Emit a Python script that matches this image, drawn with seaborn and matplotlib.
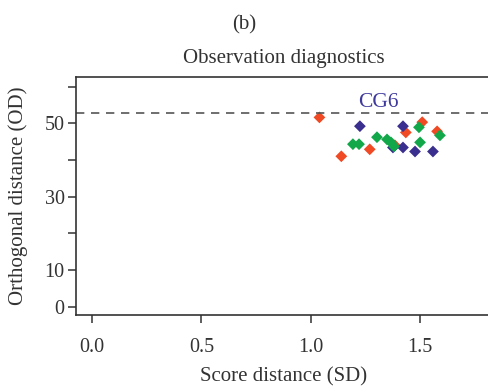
import pandas as pd
import matplotlib
matplotlib.use("Agg")
import matplotlib.pyplot as plt
import seaborn as sns

# Valeurs (SD, OD) par groupe
red_sd = [1.04, 1.14, 1.27, 1.385, 1.435, 1.51, 1.578]
red_od = [51.6, 41.0, 42.9, 44.0, 47.5, 50.3, 47.8]
blue_sd = [1.225, 1.376, 1.422, 1.422, 1.477, 1.559]
blue_od = [49.2, 43.4, 49.2, 43.4, 42.3, 42.3]
green_sd = [1.193, 1.221, 1.303, 1.349, 1.367, 1.381, 1.495, 1.50, 1.591]
green_od = [44.3, 44.3, 46.2, 45.6, 44.8, 43.7, 48.9, 44.8, 46.7]
cutoff_od = 52.7
cutoff_label = "CG6"

x_ticks = [0.0, 0.5, 1.0, 1.5]
y_ticks = [0, 10, 20, 30, 40, 50, 60]
y_tick_labels = ["0", "10", "", "30", "", "50", ""]

df = pd.DataFrame({
    "sd": red_sd + blue_sd + green_sd,
    "od": red_od + blue_od + green_od,
    "group": ["r"] * len(red_sd) + ["b"] * len(blue_sd) + ["g"] * len(green_sd),
})

sns.set_style("white")
plt.rcParams["font.family"] = ["Liberation Serif", "DejaVu Serif"]
text_col = "#333333"

fig = plt.figure(figsize=(4.88, 3.87), dpi=100)
ax = fig.add_axes([75.7 / 488, (387 - 314.7) / 387, (492 - 75.7) / 488, (314.7 - 76.7) / 387])

palette = {"r": "#ef4a24", "b": "#3a2e8e", "g": "#12a84a"}
sns.scatterplot(data=df, x="sd", y="od", hue="group", palette=palette,
                marker="D", s=36, linewidth=0, legend=False, ax=ax)

ax.axhline(cutoff_od, color="#555555", linestyle=(0, (5, 4)), linewidth=1.2)
ax.text(1.31, cutoff_od + 0.4, cutoff_label, color="#3f3a9c", fontsize=15.5,
        ha="center", va="bottom")

ax.set_xlim(-0.0745, 1.829)
ax.set_ylim(-2.2, 62.7)
ax.set_xticks(x_ticks)
ax.set_xticklabels([f"{v:.1f}" for v in x_ticks])
ax.set_yticks(y_ticks)
ax.set_yticklabels(y_tick_labels)

for side in ["top", "left", "bottom", "right"]:
    ax.spines[side].set_color("#333333")
    ax.spines[side].set_linewidth(1.2)
ax.tick_params(axis="both", which="major", direction="out", bottom=True, left=True,
               length=6, width=1.1, color="#333333",
               labelsize=14.5, labelcolor=text_col)
ax.tick_params(axis="x", pad=11)
ax.tick_params(axis="y", pad=2)

ax.set_xlabel("Score distance (SD)", fontsize=15, color=text_col, labelpad=7.5)
ax.set_ylabel("Orthogonal distance (OD)", fontsize=15, color=text_col, labelpad=12)
ax.set_title("Observation diagnostics", fontsize=15, color=text_col, pad=10)
fig.text(0.5, 1 - 24.5 / 387, "(b)", ha="center", va="center", fontsize=15, color=text_col)

plt.savefig("out.png", dpi=100)
